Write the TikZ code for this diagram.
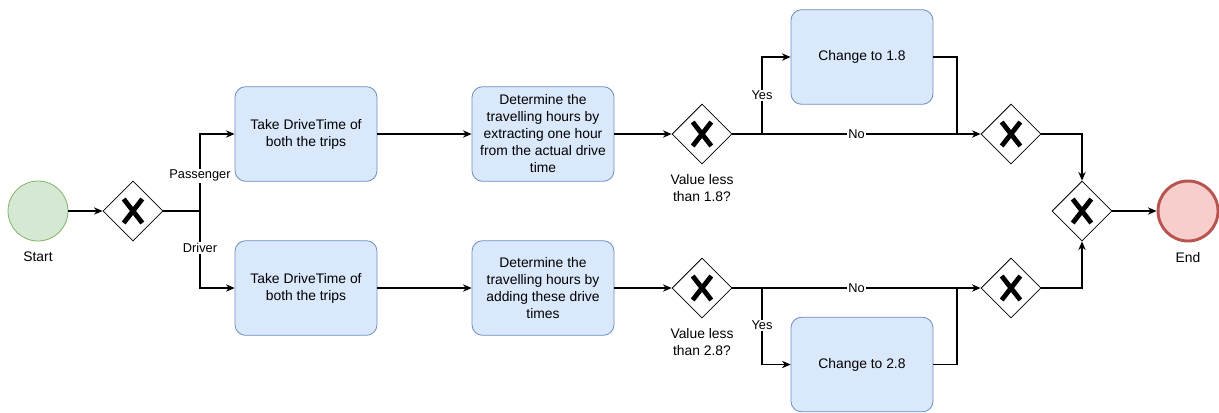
\documentclass[tikz,border=0pt]{standalone}
\usepackage{fontspec}
\setmainfont{Liberation Sans}
\usetikzlibrary{arrows.meta, shapes.geometric}
\definecolor{taskfill}{HTML}{DAE8FC}
\definecolor{taskline}{HTML}{6C8EBF}
\definecolor{startfill}{HTML}{D5E8D4}
\definecolor{startline}{HTML}{82B366}
\definecolor{endfill}{HTML}{F8CECC}
\definecolor{endline}{HTML}{B85450}

\begin{document}
\begin{tikzpicture}[x=0.75pt, y=-0.75pt, line width=0.8pt,
    flow/.style={-{Stealth[length=6.5pt,width=5.5pt]}},
    task/.style={draw=taskline, fill=taskfill, rounded corners=8pt, line width=0.6pt,
      minimum width=106.5pt, minimum height=71pt, align=center,
      font=\fontsize{10.4}{12.75}\selectfont},
    gateway/.style={diamond, draw, line width=0.6pt, inner sep=0pt,
      minimum width=45pt, minimum height=45pt,
      path picture={\draw[line width=3.6pt, shift={(path picture bounding box.center)}]
        (-7pt,-9pt) -- (7pt,9pt) (-7pt,9pt) -- (7pt,-9pt);}},
    event/.style={circle, inner sep=0pt, minimum size=45pt},
    lbl/.style={fill=white, inner sep=1pt, font=\fontsize{9.6}{11}\selectfont},
    captext/.style={align=center, font=\fontsize{10.4}{12.75}\selectfont}]
  \useasboundingbox (0,0) rectangle (1219,412);

  \node[event, draw=startline, fill=startfill, line width=0.6pt,
    label={[captext, label distance=4pt]below:Start}] (start) at (38,211) {};
  \node[gateway] (g1) at (133,211) {};
  \coordinate (split) at (200,211);

  \node[task] (take1) at (306,134) {Take DriveTime of\\both the trips};
  \node[task] (take2) at (306,288) {Take DriveTime of\\both the trips};
  \node[task] (det1) at (543,134) {Determine the\\travelling hours by\\extracting one hour\\from the actual drive\\time};
  \node[task] (det2) at (543,288) {Determine the\\travelling hours by\\adding these drive\\times};

  \node[gateway, label={[captext, label distance=4pt]below:Value less\\than 1.8?}] (g2) at (702,134) {};
  \node[gateway, label={[captext, label distance=4pt]below:Value less\\than 2.8?}] (g4) at (702,288) {};
  \node[task] (chg1) at (862,57) {Change to 1.8};
  \node[task] (chg2) at (862,364.5) {Change to 2.8};
  \coordinate (yes1) at (762,134);
  \coordinate (yes2) at (762,288);
  \coordinate (join1) at (957,134);
  \coordinate (join2) at (957,288);

  \node[gateway] (g3) at (1011,134) {};
  \node[gateway] (g5) at (1011,288) {};
  \node[gateway] (g6) at (1082,211) {};
  \node[event, draw=endline, fill=endfill, line width=2.2pt,
    label={[captext, label distance=4pt]below:End}] (end) at (1188,211) {};

  \draw[flow] (start) -- (g1);
  \draw (g1) -- (split);
  \draw[flow] (split) |- node[lbl, pos=0.23] {Passenger} (take1);
  \draw[flow] (split) |- node[lbl, pos=0.24] {Driver} (take2);
  \draw[flow] (take1) -- (det1);
  \draw[flow] (take2) -- (det2);
  \draw[flow] (det1) -- (g2);
  \draw[flow] (det2) -- (g4);

  \draw[flow] (g2) -- node[lbl] {No} (g3);
  \draw[flow] (yes1) |- node[lbl, pos=0.25] {Yes} (chg1);
  \draw (chg1) -| (join1);
  \draw[flow] (g4) -- node[lbl] {No} (g5);
  \draw[flow] (yes2) |- node[lbl, pos=0.245] {Yes} (chg2);
  \draw (chg2) -| (join2);

  \draw[flow] (g3) -| (g6);
  \draw[flow] (g5) -| (g6);
  \draw[flow] (g6) -- (end);
\end{tikzpicture}
\end{document}
